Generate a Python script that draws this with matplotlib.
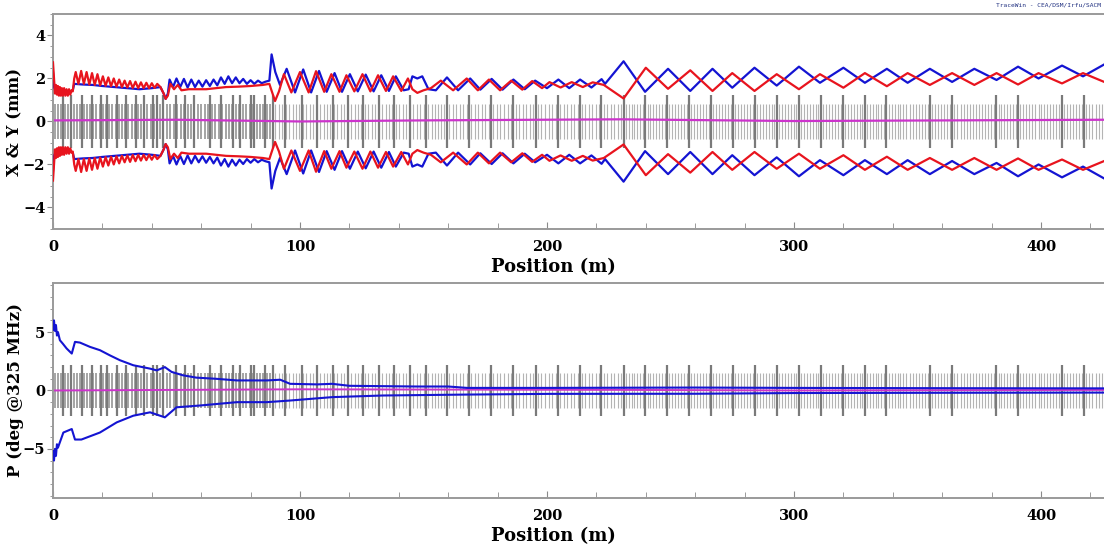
import numpy as np
import matplotlib.pyplot as plt

# ---- beam envelope, top panel (mm) ----
x_pos = [0, 0.5, 1.5, 3, 5, 7, 8, 8.6, 12, 16, 20, 25, 30, 35, 40, 43.5, 44.8, 45.6, 46.5,
         47.2, 48.6, 50, 51.5, 53, 54.5, 56, 57.5, 59, 60.5, 62, 63.5, 65, 66.5, 68, 69.5,
         71, 72.5, 74, 75.5, 77, 78.5, 80, 81.5, 83, 84.5, 86, 87.6, 88.5, 90, 91.9, 94.6,
         98, 101.3, 104.5, 107.7, 110.8, 114, 117, 120.2, 123.4, 126.6, 129.8, 132.9, 136,
         138.8, 142, 144, 145.5, 147.5, 149.5, 152, 155, 159.5, 164, 168.9, 173, 177.6, 182,
         186.4, 191, 195.2, 200, 204.6, 209, 213.4, 218, 222.1, 223.5, 231, 239.7, 249, 258,
         267, 275, 284, 293, 302, 310.5, 320, 328.7, 337.6, 346, 355, 364, 373, 382, 390.7,
         399, 408.5, 417, 426]
x_env = [2.3, 1.6, 1.3, 1.4, 1.3, 1.4, 1.45, 1.75, 1.72, 1.7, 1.65, 1.6, 1.55, 1.5, 1.55, 1.6, 1.3, 1.05, 1.3,
         1.95, 1.6, 2.0, 1.6, 1.98, 1.58, 1.95, 1.6, 1.9, 1.62, 1.92, 1.65, 1.95, 1.68, 2.05, 1.75,
         2.1, 1.78, 2.05, 1.78, 1.98, 1.75, 1.92, 1.75, 1.9, 1.78, 1.85, 1.9, 3.12, 2.3, 1.7, 2.45,
         1.35, 2.42, 1.35, 2.35, 1.38, 2.25, 1.38, 2.2, 1.4, 2.18, 1.4, 2.15, 1.42,
         2.1, 1.45, 1.5, 2.1, 2.0, 2.1, 1.5, 1.45, 2.05, 1.45, 2.0, 1.48, 1.98, 1.48,
         1.95, 1.5, 1.9, 1.55, 1.95, 1.55, 1.95, 1.58, 1.97, 1.75, 2.8, 1.38, 2.45, 1.42,
         2.45, 1.57, 2.5, 1.67, 2.55, 1.8, 2.5, 1.8, 2.45, 1.8, 2.45, 1.84, 2.45, 1.93, 2.55,
         2.0, 2.6, 2.1, 2.68]

y_pos = [0, 0.4, 0.8, 1.2, 1.6, 2.0, 2.4, 2.8, 3.2, 3.6, 4.0, 4.5, 5.0, 5.5, 6.0, 6.5, 7.0, 7.5,
         8.0, 8.6, 9.2, 10.3, 11.4, 12.5, 13.6, 14.7, 15.8, 16.9, 18, 19.1, 20.2, 21.3, 22.4,
         23.5, 24.6, 25.7, 26.8, 27.9, 29, 30.1, 31.2, 32.3, 33.4, 34.5, 35.6, 36.7, 37.8,
         38.9, 40, 41.1, 42.2, 43.5, 44.8, 45.6, 46.5, 47.5, 49, 50.5, 52, 55, 58, 62, 66,
         70, 75, 80, 85, 87.6, 88.3, 89.9, 91.5, 93.5, 96.5, 100, 103.5, 106.5, 109.8, 112.7,
         116, 118.8, 122, 125.3, 128.5, 131.6, 134.8, 137.7, 141, 143.7, 145.5, 147.5, 150,
         153, 157, 162, 167.5, 172, 176.5, 181, 185.5, 190, 194, 198, 201, 205.5, 210, 214.5,
         218.5, 223, 231, 240, 249, 258, 267, 275, 284, 293, 302, 310.5, 320, 328.7, 337.6,
         346, 355, 364, 373, 382, 390.7, 399, 408.5, 417, 426]
y_env = [2.75, 2.0, 1.3, 1.7, 1.25, 1.65, 1.2, 1.6, 1.2, 1.55, 1.2, 1.55, 1.2, 1.5, 1.2, 1.5, 1.25, 1.45,
         1.4, 2.0, 2.3, 1.75, 2.35, 1.75, 2.3, 1.72, 2.25, 1.7, 2.2, 1.68, 2.1, 1.66, 2.05,
         1.64, 2.0, 1.62, 1.95, 1.6, 1.9, 1.58, 1.88, 1.56, 1.85, 1.55, 1.82, 1.55, 1.8,
         1.55, 1.78, 1.56, 1.75, 1.6, 1.3, 1.05, 1.2, 1.75, 1.5, 1.7, 1.45, 1.5, 1.5, 1.5, 1.55,
         1.6, 1.62, 1.65, 1.7, 1.75, 1.5, 0.95, 1.4, 2.2, 1.35, 2.3, 1.35, 2.34, 1.38, 2.2,
         1.38, 2.15, 1.4, 2.2, 1.4, 2.15, 1.42, 2.1, 1.42, 2.0, 1.5, 1.33, 1.45,
         1.55, 1.9, 1.45, 2.0, 1.45, 1.95, 1.45, 1.9, 1.48, 1.88, 1.55, 1.83, 1.58, 1.83, 1.6,
         1.82, 1.7, 1.07, 2.5, 1.52, 2.38, 1.42, 2.25, 1.42, 2.2, 1.5, 2.2, 1.57, 2.25, 1.64,
         2.25, 1.7, 2.25, 1.7, 2.25, 1.72, 2.25, 1.77, 2.25, 1.82]

ctr_pos = [0, 50, 100, 150, 230, 300, 426]
ctr_xy = [0.05, 0.08, 0.0, 0.05, 0.1, 0.02, 0.08]
ctr_ph = [0.0, 0.05, 0.1, 0.08, 0.05, 0.0, 0.05]

# ---- phase envelope, bottom panel (deg @325 MHz) ----
ph_up_pos = [0, 0.4, 0.8, 1.2, 1.6, 2.0, 2.8, 4.0, 5.5, 7.6, 8.9, 10.9, 15, 19, 23.1, 27.1,
             32.5, 39.3, 42, 45.3, 48, 52.6, 58, 66, 74.5, 86.6, 92, 96, 107, 113, 120,
             133.6, 147, 160, 167.6, 201, 260, 300, 350, 426]
ph_up = [5.2, 6.0, 5.1, 5.6, 4.7, 5.0, 4.3, 4.0, 3.6, 3.16, 4.16, 4.1, 3.73, 3.45, 3.0, 2.59,
         2.16, 1.87, 1.72, 2.0, 1.59, 1.3, 1.1, 1.0, 0.86, 0.86, 0.92, 0.57, 0.52, 0.57, 0.4,
         0.37, 0.34, 0.34, 0.22, 0.22, 0.25, 0.22, 0.2, 0.18]
ph_lo_pos = [0, 0.4, 0.8, 1.2, 1.6, 2.0, 4.2, 7.6, 8.9, 11.5, 19, 25.8, 32.5, 39.3, 45.3,
             50, 59.3, 74.5, 86.6, 96, 113, 133.6, 167.6, 201, 260, 300, 350, 426]
ph_lo = [-5.2, -6.0, -5.0, -5.6, -4.6, -4.9, -3.6, -3.3, -4.2, -4.2, -3.6, -2.73, -2.16, -1.87, -2.3,
         -1.44, -1.29, -1.0, -1.0, -0.86, -0.57, -0.43, -0.35, -0.29, -0.28, -0.22, -0.2, -0.18]

# ---- lattice elements (m) ----
quads = [4.0, 7.3, 11.6, 15.7, 19.5, 21.7, 25.8, 29.5, 33.5, 37.0, 40.6, 42.0, 44.6,
         50.0, 53.5, 57.0, 63.5, 68.0, 73.0, 75.7, 80.0, 81.5, 85.8, 89.2, 93.9,
         100.7, 106.7, 113.2, 119.6, 125.6, 132.1, 138.2, 144.5, 151.0, 159.4, 168.5,
         177.3, 186.4, 195.4, 204.5, 213.3, 222.0, 231.0, 239.8, 248.6, 257.5, 266.5,
         275.2, 284.1, 293.0, 301.9, 310.8, 319.9, 328.6, 337.4, 355.1, 364.0, 381.9,
         390.7, 408.3, 417.3]
# cavity blocks: start, end, number of cells
cav_start = [0.8, 47.5, 90.0, 152.0, 160.3, 169.4, 178.2, 187.3, 196.3, 205.4, 214.2, 222.9,
             231.9, 240.7, 249.5, 258.4, 267.4, 276.1, 285.0, 293.9, 302.8, 311.7, 320.8,
             329.5, 338.3, 346.9, 356.0, 364.9, 373.5, 382.8, 391.6, 400.0, 409.2, 418.2]
cav_end = [46.0, 88.0, 150.0, 158.5, 167.6, 176.4, 185.5, 194.5, 203.6, 212.4, 221.1, 230.1,
           238.9, 247.7, 256.6, 265.6, 274.3, 283.2, 292.1, 301.0, 309.9, 319.0, 327.7,
           336.5, 345.5, 354.2, 363.1, 372.5, 381.0, 389.8, 399.0, 407.4, 416.4, 426.0]
cav_n = [36, 30, 44, 6, 6, 6, 6, 6, 6, 6, 6, 6, 7, 7, 7, 7, 7, 7, 7, 7, 7, 7, 7, 7, 7,
         7, 7, 7, 7, 7, 7, 7, 7, 7]

BLUE = '#1414d2'
RED = '#e8141e'
MAG = '#cc33cc'

fig = plt.figure(figsize=(11.04, 5.49), dpi=100)
ax1 = fig.add_axes([0.048, 0.583, 0.952, 0.3915])
ax2 = fig.add_axes([0.048, 0.093, 0.952, 0.3915])


def draw_lattice(ax, h_cav, h_quad):
    for s, e, n in zip(cav_start, cav_end, cav_n):
        xs = np.linspace(s, e, n)
        col = '#8c8c8c' if e < 90 else '#b4b4b4'
        ax.vlines(xs, -h_cav, h_cav, color=col, lw=1.1 if e < 90 else 0.8, zorder=1)
    ax.vlines(quads, -h_quad, h_quad, color='#7a7a7a', lw=1.6, zorder=1)


draw_lattice(ax1, 0.8, 1.23)
ax1.plot(ctr_pos, ctr_xy, color=MAG, lw=1.6, zorder=2)
ax1.plot(x_pos, x_env, color=BLUE, lw=1.6, zorder=3)
ax1.plot(x_pos, -np.array(x_env), color=BLUE, lw=1.6, zorder=3)
ax1.plot(y_pos, y_env, color=RED, lw=1.6, zorder=4)
ax1.plot(y_pos, -np.array(y_env), color=RED, lw=1.6, zorder=4)
ax1.set_ylim(-5, 5)
ax1.set_yticks([-4, -2, 0, 2, 4])
ax1.set_yticks(np.arange(-5, 5.01, 0.5), minor=True)
ax1.set_ylabel('X & Y (mm)')

draw_lattice(ax2, 1.5, 2.2)
ax2.plot(ctr_pos, ctr_ph, color=MAG, lw=1.4, zorder=2)
ax2.plot(ph_up_pos, ph_up, color=BLUE, lw=1.5, zorder=3)
ax2.plot(ph_lo_pos, ph_lo, color=BLUE, lw=1.5, zorder=3)
ax2.set_ylim(-9.2, 9.2)
ax2.set_yticks([-5, 0, 5])
ax2.set_yticks(np.arange(-9, 9.1, 1), minor=True)
ax2.set_ylabel('P (deg @325 MHz)')

for ax in (ax1, ax2):
    ax.set_xlim(0, 425.5)
    ax.set_xticks([0, 100, 200, 300, 400])
    ax.set_xticks(np.arange(0, 426, 20), minor=True)
    ax.set_xlabel('Position (m)', family='DejaVu Serif', weight='bold', size=13, labelpad=0)
    ax.xaxis.set_label_coords(0.476, -0.135)
    ax.yaxis.label.set(family='DejaVu Serif', weight='bold', size=12)
    ax.yaxis.set_label_coords(-0.028, 0.5)
    ax.spines['right'].set_visible(False)
    for sp in ('top', 'left', 'bottom'):
        ax.spines[sp].set_color('#9a9a9a')
        ax.spines[sp].set_linewidth(1.4)
    ax.tick_params(axis='x', which='both', direction='in', color='#8a8a8a', pad=8)
    ax.tick_params(axis='x', which='major', length=5)
    ax.tick_params(axis='x', which='minor', length=4)
    ax.tick_params(axis='y', which='both', direction='out', color='#8a8a8a', pad=1.5)
    ax.tick_params(axis='y', which='major', length=4)
    ax.tick_params(axis='y', which='minor', length=2.5)
    for t in ax.get_xticklabels() + ax.get_yticklabels():
        t.set_fontfamily('DejaVu Serif')
        t.set_fontweight('bold')
        t.set_fontsize(10.5)

fig.text(0.997, 0.995, 'TraceWin - CEA/DSM/Irfu/SACM', ha='right', va='top',
         fontsize=4.5, family='DejaVu Sans Mono', color='#203080')

fig.savefig('out.png', dpi=100)
